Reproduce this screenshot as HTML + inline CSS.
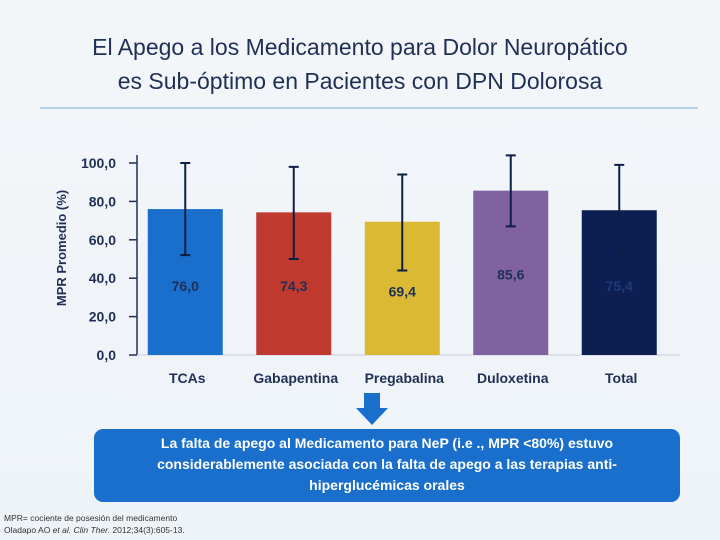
<!DOCTYPE html>
<html><head><meta charset="utf-8"><style>
body{margin:0;width:720px;height:540px;overflow:hidden;background:linear-gradient(180deg,#f3f6f9,#eef3f8);font-family:"Liberation Sans",sans-serif;position:relative}
.t{position:absolute;left:0;width:720px;text-align:center;color:#1f2f55;font-size:23px}
</style></head><body>
<div class="t" style="top:34px">El Apego a los Medicamento para Dolor Neuropático</div>
<div class="t" style="top:68px">es Sub-óptimo en Pacientes con DPN Dolorosa</div>
<div style="position:absolute;left:40px;top:107px;width:658px;height:2px;background:#b9d3e6"></div>
<svg id="chart" width="720" height="540" style="position:absolute;left:0;top:0"></svg>
<svg width="720" height="540" style="position:absolute;left:0;top:0">
<polygon points="364,393 380,393 380,408 388,408 372,425 356,408 364,408" fill="#1a6fcc"/>
</svg>
<div style="position:absolute;left:94px;top:429px;width:586px;height:73px;background:#1a6fcc;border-radius:9px;color:#fff;font-size:14px;text-align:center;line-height:21px;font-weight:bold;padding-top:4px;box-sizing:border-box">La falta de apego al Medicamento para NeP (i.e ., MPR &lt;80%) estuvo<br>considerablemente asociada con la falta de apego a las terapias anti-<br>hiperglucémicas orales</div>
<div style="position:absolute;left:4px;top:512px;font-size:8.5px;line-height:12px;color:#333">MPR= cociente de posesión del medicamento<br>Oladapo AO <i>et al. Clin Ther.</i> 2012;34(3):605-13.</div>
<script>
const categories=["TCAs","Gabapentina","Pregabalina","Duloxetina","Total"];
const values=[76.0,74.3,69.4,85.6,75.4];
const valueLabels=["76,0","74,3","69,4","85,6","75,4"];
const errHigh=[100,98,94,104,99];
const errLow=[52,50,44,67,52];
const labelPos=[36,36,33,42,36];
const ticks=[0,20,40,60,80,100];
const tickLabels=["0,0","20,0","40,0","60,0","80,0","100,0"];
const colors=["#1a6fcc","#c0392f","#dbb932","#8062a0","#0d1f52"];
const labelColors=["#1f2f55","#1f2f55","#1f2f55","#1f2f55","#1f3a78"];
const svg=document.getElementById('chart');const NS="http://www.w3.org/2000/svg";
const y=v=>355-v*1.92;const bw=108.5;const x0=137;
const xc=i=>x0+bw*i+bw/2-6;
function mk(t,a){const e=document.createElementNS(NS,t);for(const k in a)e.setAttribute(k,a[k]);svg.appendChild(e);return e;}
let ax=mk('line',{x1:x0,y1:155,x2:x0,y2:355,stroke:'#1f2f55','stroke-width':1.5});

let xa=mk('line',{x1:x0,y1:355,x2:x0+bw*5,y2:355,stroke:'#c8d0da','stroke-width':1});

ticks.forEach((t,i)=>{let l=mk('line',{x1:x0-8,y1:y(t),x2:x0,y2:y(t),stroke:'#1f2f55','stroke-width':1.5});

let tx=mk('text',{x:x0-21,y:y(t)+5,'text-anchor':'end','font-size':14,fill:'#1f2f55','font-weight':'bold'});tx.textContent=tickLabels[i];
});
let yt=mk('text',{x:0,y:0,transform:'translate(66,248) rotate(-90)','text-anchor':'middle','font-size':13,'font-weight':'bold',fill:'#1f2f55'});yt.textContent='MPR Promedio (%)';

categories.forEach((c,i)=>{const cx=xc(i);
let r=mk('rect',{x:cx-37.5,y:y(values[i]),width:75,height:355-y(values[i]),fill:colors[i]});

let e=mk('path',{d:`M${cx},${y(errHigh[i])}V${y(errLow[i])}M${cx-5},${y(errHigh[i])}H${cx+5}M${cx-5},${y(errLow[i])}H${cx+5}`,stroke:'#0d1f45','stroke-width':2,fill:'none'});

let v=mk('text',{x:cx,y:y(labelPos[i])+5,'text-anchor':'middle','font-size':14,'font-weight':'bold',fill:labelColors[i]});v.textContent=valueLabels[i];

let cl=mk('text',{x:cx+2,y:383,'text-anchor':'middle','font-size':14,'font-weight':'bold',fill:'#1f2f55'});cl.textContent=c;
});
</script>
</body></html>
